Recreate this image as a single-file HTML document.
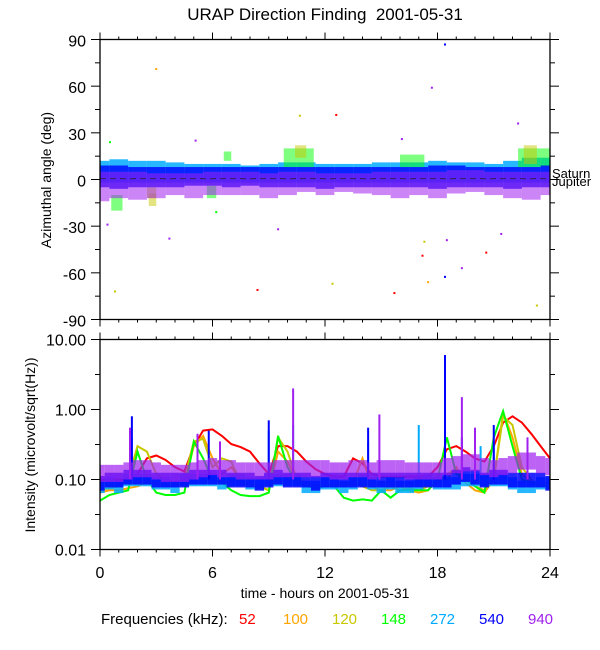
<!DOCTYPE html>
<html><head><meta charset="utf-8"><style>
html,body{margin:0;padding:0;background:#fff;}
svg{display:block;font-family:"Liberation Sans",sans-serif;}
</style></head><body>
<svg id="chart" width="600" height="650" viewBox="0 0 600 650">
<text x="325" y="20" font-size="17" text-anchor="middle">URAP Direction Finding &#160;2001-05-31</text>
<g id="topPanel"></g>
<g id="botPanel"></g>
<g id="axesG"></g>
<text transform="translate(51,180) rotate(-90)" font-size="14" text-anchor="middle">Azimuthal angle (deg)</text>
<text transform="translate(35,445) rotate(-90)" font-size="14" text-anchor="middle">Intensity (microvolt/sqrt(Hz))</text>
<text x="325" y="598" font-size="14" text-anchor="middle">time - hours on 2001-05-31</text>
<text x="552" y="178" font-size="13">Saturn</text>
<text x="552" y="186" font-size="13">Jupiter</text>
<g id="legendG" font-size="15">
<text x="101" y="624">Frequencies (kHz):</text>
</g>
</svg>
<script>
// ---------- data ----------
const freqs = ["52","100","120","148","272","540","940"];
const colors = ["#ff0000","#ffa500","#c8c800","#00ff00","#00aaff","#0000ff","#a020f0"];
const xTicks = [0,6,12,18,24];
const azTicks = [90,60,30,0,-30,-60,-90];
const intTicks = [10,1,0.1,0.01];
const intTickLabels = ["10.00","1.00","0.10","0.01"];
// intensity, every 0.5 h (t = 0 .. 24)
const int52 = [0.10,0.10,0.10,0.10,0.12,0.20,0.22,0.19,0.15,0.13,0.30,0.50,0.52,0.42,0.32,0.29,0.25,0.17,0.12,0.30,0.30,0.25,0.18,0.14,0.12,0.11,0.11,0.20,0.17,0.12,0.11,0.11,0.11,0.11,0.11,0.11,0.15,0.27,0.30,0.25,0.20,0.18,0.30,0.65,0.80,0.65,0.45,0.30,0.20];
const int100 = [0.065,0.07,0.07,0.075,0.08,0.09,0.09,0.08,0.08,0.09,0.30,0.42,0.20,0.12,0.15,0.10,0.08,0.08,0.07,0.25,0.18,0.10,0.08,0.08,0.08,0.08,0.08,0.09,0.20,0.08,0.07,0.07,0.08,0.07,0.065,0.07,0.10,0.10,0.15,0.09,0.07,0.065,0.10,0.90,0.40,0.12,0.09,0.08,0.10];
const int120 = [0.07,0.075,0.08,0.10,0.30,0.25,0.12,0.10,0.09,0.10,0.35,0.38,0.15,0.20,0.18,0.09,0.08,0.08,0.07,0.40,0.25,0.10,0.09,0.08,0.08,0.085,0.09,0.09,0.08,0.07,0.07,0.08,0.07,0.075,0.07,0.08,0.09,0.12,0.14,0.10,0.08,0.07,0.10,0.80,0.60,0.15,0.10,0.08,0.09];
const int148 = [0.05,0.06,0.065,0.07,0.25,0.10,0.065,0.06,0.06,0.065,0.35,0.20,0.10,0.09,0.07,0.06,0.058,0.058,0.065,0.42,0.15,0.09,0.08,0.075,0.08,0.08,0.055,0.05,0.052,0.05,0.07,0.055,0.07,0.07,0.07,0.07,0.10,0.40,0.12,0.10,0.08,0.065,0.40,0.95,0.30,0.10,0.09,0.08,0.09];
const int272 = [0.08,0.09,0.08,0.10,0.10,0.10,0.09,0.09,0.08,0.10,0.10,0.10,0.10,0.09,0.10,0.10,0.09,0.09,0.10,0.10,0.10,0.10,0.08,0.08,0.09,0.09,0.08,0.09,0.10,0.09,0.08,0.09,0.08,0.08,0.09,0.10,0.09,0.09,0.09,0.10,0.10,0.10,0.10,0.10,0.09,0.08,0.08,0.09,0.09];
const int540 = [0.09,0.10,0.10,0.11,0.11,0.11,0.10,0.10,0.10,0.10,0.11,0.11,0.11,0.11,0.10,0.10,0.10,0.09,0.10,0.11,0.10,0.10,0.10,0.09,0.10,0.10,0.10,0.10,0.10,0.10,0.10,0.10,0.10,0.10,0.10,0.10,0.10,0.10,0.11,0.12,0.11,0.10,0.11,0.11,0.10,0.10,0.10,0.10,0.09];
const int940 = [0.12,0.12,0.12,0.13,0.14,0.14,0.13,0.12,0.12,0.12,0.13,0.14,0.15,0.14,0.14,0.13,0.13,0.13,0.13,0.14,0.14,0.14,0.14,0.14,0.14,0.13,0.13,0.14,0.14,0.13,0.14,0.14,0.14,0.13,0.13,0.13,0.13,0.15,0.16,0.17,0.17,0.15,0.14,0.15,0.16,0.18,0.18,0.16,0.15];
const spike272T = [1.7,9.0,10.3,14.3,17.0,20.3,21.0];
const spike272V = [0.40,0.50,0.60,0.35,0.60,0.30,0.35];
const spike540T = [1.7,5.8,9.0,14.3,18.4,19.3,21.0];
const spike540V = [0.80,0.50,0.70,0.55,6.0,0.40,0.60];
const spike940T = [1.6,10.3,14.9,19.3,20.0,22.8,5.2,6.4];
const spike940V = [0.55,2.0,0.85,1.5,0.55,0.40,0.45,0.35];
// azimuth bands, hourly (t = 0 .. 24), degrees
const az272Lo = [-2,-2,-2,-2,-2,-2,-2,-2,-2,-2,-2,-2,-2,-2,-2,-2,-2,-2,-2,-2,-2,-2,-2,-2,-2];
const az272Hi = [12,13,12,12,11,10,10,10,9,10,11,11,10,10,10,11,11,11,12,11,11,10,12,14,14];
const az540Lo = [-5,-6,-5,-5,-5,-4,-4,-5,-4,-5,-5,-5,-6,-5,-5,-5,-5,-5,-6,-5,-5,-5,-6,-5,-5];
const az540Hi = [9,9,8,8,8,8,8,8,8,8,8,8,8,8,8,8,8,8,9,9,8,8,8,8,9];
const az940Lo = [-14,-12,-13,-12,-10,-12,-10,-10,-10,-12,-10,-8,-10,-8,-9,-10,-12,-10,-12,-9,-8,-10,-12,-13,-10];
const az940Hi = [5,5,5,4,4,4,5,5,5,4,5,5,4,4,4,5,5,5,5,6,6,5,5,5,5];
// clusters: start, end (h), low, high (deg)
const clusterColorIdx = [3,2,3,3,3,3,3,2,2,2];
const clusterT0 = [0.6,2.5,5.7,6.6,9.8,16.0,22.3,2.6,10.4,22.6];
const clusterT1 = [1.2,3.0,6.2,7.0,11.4,17.3,24.0,3.0,11.0,23.3];
const clusterLo = [-20,-12,-12,12,8,8,8,-17,14,10];
const clusterHi = [-10,-5,-4,18,20,16,20,-9,22,22];
// isolated azimuth points
const outT = [3.0,10.66,12.6,18.4,17.7,22.3,5.1,16.1,0.53,8.4,15.7,0.8,12.4,17.5,18.4,20.6,17.2,19.3,0.4,9.5,3.7,21.4,23.3,17.3,18.5,6.2];
const outDeg = [71,41,41.5,86.8,59,36,25,26,24,-71,-73,-72,-67,-66,-62.6,-47,-49,-57,-29,-32,-38,-35,-81,-40,-39,-21];
const outIdx = [1,2,0,5,6,6,6,6,3,0,0,2,2,1,5,0,0,6,6,6,6,6,2,2,6,3];
</script>
<script>
const NS="http://www.w3.org/2000/svg";
const X0=100, X1=550, AT=39.5, AB=319.5, IT=339.5, IB=549.5;
const xs = t => X0 + t*(X1-X0)/24;
const ya = d => (AT+AB)/2 - d*(AB-AT)/180;
const yi = v => IB - (Math.log10(v)+2)*(IB-IT)/3;
function mk(tag, attrs, parent){const e=document.createElementNS(NS,tag);for(const k in attrs)e.setAttribute(k,attrs[k]);parent.appendChild(e);return e;}
const topG=document.getElementById('topPanel'), botG=document.getElementById('botPanel'), axesG=document.getElementById('axesG');

// ----- azimuth panel -----
function azBand(lo,hi,ci,op){
  for(let i=0;i<lo.length;i++){
    const t0=Math.max(0,i-0.5), t1=Math.min(24,i+0.5);
    const r=mk('rect',{x:xs(t0),y:ya(hi[i]),width:xs(t1)-xs(t0),height:ya(lo[i])-ya(hi[i]),fill:colors[ci],opacity:op},topG);
    
    
  }
}
azBand(az272Lo,az272Hi,4,0.85);
for(let i=0;i<clusterT0.length;i++){
  const r=mk('rect',{x:xs(clusterT0[i]),y:ya(clusterHi[i]),width:xs(clusterT1[i])-xs(clusterT0[i]),height:ya(clusterLo[i])-ya(clusterHi[i]),fill:colors[clusterColorIdx[i]],opacity:0.5},topG);
  
  
}
azBand(az540Lo,az540Hi,5,0.8);
azBand(az940Lo,az940Hi,6,0.55);
{
  const l=mk('line',{x1:X0,x2:X1,y1:ya(0.5),y2:ya(0.5),stroke:'#222','stroke-width':0.8,'stroke-dasharray':'6 4'},topG);
  
  
}
for(let i=0;i<outT.length;i++){
  const r=mk('rect',{x:xs(outT[i])-1,y:ya(outDeg[i])-1,width:2,height:2,fill:colors[outIdx[i]]},topG);
  
  
}

// ----- intensity panel -----
function intLine(arr,ci){
  const pts=arr.map((v,i)=>xs(i*0.5).toFixed(1)+','+yi(v).toFixed(1)).join(' ');
  const p=mk('polyline',{points:pts,fill:'none',stroke:colors[ci],'stroke-width':2},botG);
  
  
}
function intBand(arr,ci,f1,f2,op){
  for(let i=0;i<arr.length;i++){
    const t0=Math.max(0,i*0.5-0.25), t1=Math.min(24,i*0.5+0.25);
    const r=mk('rect',{x:xs(t0),y:yi(arr[i]*f2),width:xs(t1)-xs(t0),height:yi(arr[i]/f1)-yi(arr[i]*f2),fill:colors[ci],opacity:op},botG);
    
    
  }
}
function intSpikes(ts,vs,ci){
  for(let i=0;i<ts.length;i++){
    const r=mk('rect',{x:xs(ts[i])-1,y:yi(vs[i]),width:2,height:yi(0.1)-yi(vs[i]),fill:colors[ci]},botG);
    
    
  }
}
intLine(int52,0);
intLine(int100,1);
intLine(int120,2);
intLine(int148,3);
intBand(int272,4,1.25,1.2,0.85);
intSpikes(spike272T,spike272V,4);
intBand(int540,5,1.3,1.25,0.85);
intSpikes(spike540T,spike540V,5);
intBand(int940,6,1.3,1.35,0.7);
intSpikes(spike940T,spike940V,6);

// ----- axes -----
function frame(y0,y1,name){
  const r=mk('rect',{x:X0,y:y0,width:X1-X0,height:y1-y0,fill:'none',stroke:'#000','stroke-width':1.3},axesG);
  
  
  for(let h=0;h<=24;h++){
    const len=(h%6===0)?7:3;
    mk('line',{x1:xs(h),x2:xs(h),y1:y0,y2:y0-len,stroke:'#000','stroke-width':1},axesG);
    mk('line',{x1:xs(h),x2:xs(h),y1:y1,y2:y1+len,stroke:'#000','stroke-width':1},axesG);
  }
}
frame(AT,AB,'azimuth-plot-frame');
frame(IT,IB,'intensity-plot-frame');
for(let d=-90; d<=90; d+=15){
  const len=(d%30===0)?9:5;
  mk('line',{x1:X0,x2:X0-len,y1:ya(d),y2:ya(d),stroke:'#000'},axesG);
  mk('line',{x1:X1,x2:X1+len,y1:ya(d),y2:ya(d),stroke:'#000'},axesG);
}
azTicks.forEach(d=>{
  const t=mk('text',{x:86,y:ya(d)+7,'font-size':16,'text-anchor':'end'},axesG);
  t.textContent=String(d);
  
  
});
for(let e=-2; e<=1; e+=0.5){
  const len=(Number.isInteger(e))?9:5;
  const y=IB-(e+2)*(IB-IT)/3;
  mk('line',{x1:X0,x2:X0-len,y1:y,y2:y,stroke:'#000'},axesG);
  mk('line',{x1:X1,x2:X1+len,y1:y,y2:y,stroke:'#000'},axesG);
}
intTicks.forEach((v,i)=>{
  const t=mk('text',{x:86,y:yi(v)+6,'font-size':16,'text-anchor':'end'},axesG);
  t.textContent=intTickLabels[i];
  
  
});
xTicks.forEach(h=>{
  const t=mk('text',{x:xs(h),y:578,'font-size':16,'text-anchor':'middle'},axesG);
  t.textContent=String(h);
  
  
});
// legend
const legG=document.getElementById('legendG');
const legX=[239,283,332,381,430,479,528];
freqs.forEach((f,i)=>{
  const t=mk('text',{x:legX[i],y:624,fill:colors[i]},legG);
  t.textContent=f;
  
  
});
</script>
</body></html>
